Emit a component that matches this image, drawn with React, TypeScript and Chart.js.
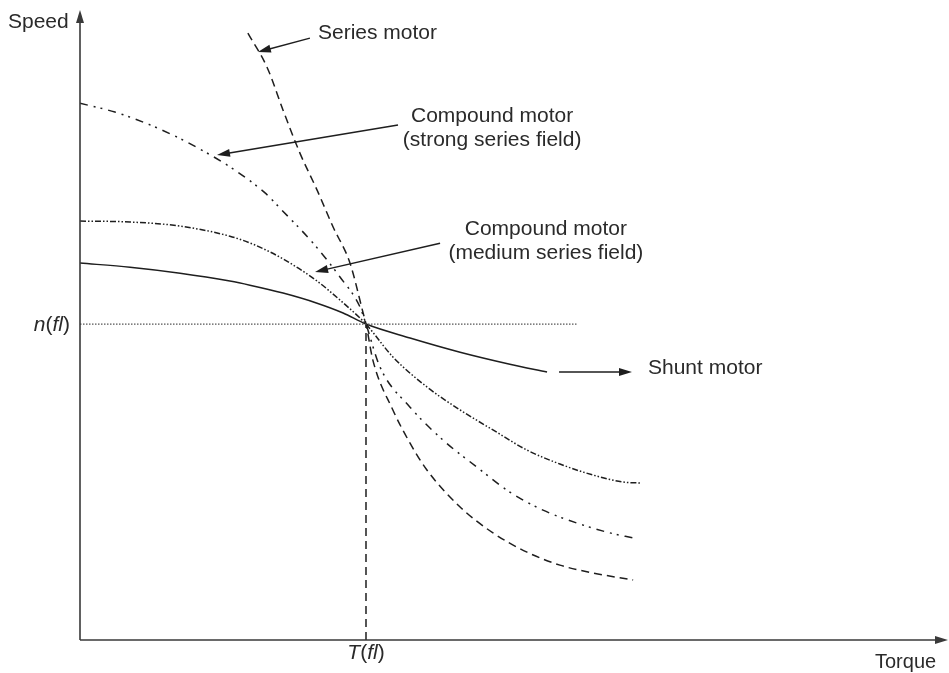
import React, { useEffect, useRef } from "react";
import { Chart, registerables } from "chart.js";

Chart.register(...registerables);

// Units: torque in multiples of T(fl), speed in multiples of n(fl)
const X_MAX = 3.035;
const Y_MAX = 1.994;

const TORQUE_SHUNT = [0, 0.175, 0.35, 0.524, 0.594, 0.71, 0.829, 0.92, 1, 1.154, 1.329, 1.503, 1.633];
const SPEED_SHUNT = [1.193, 1.18, 1.161, 1.136, 1.123, 1.098, 1.066, 1.035, 1, 0.956, 0.911, 0.873, 0.848];

const TORQUE_MEDIUM = [0, 0.175, 0.35, 0.524, 0.612, 0.71, 0.829, 0.909, 0.979, 1, 1.094, 1.213, 1.329, 1.444, 1.563, 1.678, 1.794, 1.899, 1.958];
const SPEED_MEDIUM = [1.326, 1.323, 1.31, 1.278, 1.25, 1.206, 1.136, 1.076, 1.019, 1, 0.896, 0.801, 0.728, 0.665, 0.601, 0.557, 0.522, 0.5, 0.497];

const TORQUE_STRONG = [0, 0.122, 0.227, 0.332, 0.437, 0.542, 0.647, 0.699, 0.815, 0.909, 0.979, 1, 1.049, 1.154, 1.269, 1.388, 1.503, 1.619, 1.738, 1.853, 1.934];
const SPEED_STRONG = [1.699, 1.671, 1.637, 1.595, 1.545, 1.487, 1.415, 1.367, 1.256, 1.149, 1.054, 1, 0.864, 0.737, 0.633, 0.547, 0.468, 0.411, 0.37, 0.339, 0.323];

const TORQUE_SERIES = [0.587, 0.654, 0.71, 0.769, 0.829, 0.885, 0.944, 0.99, 1, 1.024, 1.094, 1.154, 1.213, 1.329, 1.444, 1.563, 1.678, 1.794, 1.934];
const SPEED_SERIES = [1.921, 1.813, 1.677, 1.541, 1.424, 1.307, 1.193, 1.035, 1, 0.886, 0.728, 0.623, 0.538, 0.421, 0.339, 0.278, 0.237, 0.212, 0.19];

const RATED_TORQUE = 1;
const RATED_SPEED = 1;
const RATED_SPEED_LINE_END = 1.741;

// label texts
const LABEL_SERIES = ["Series motor"];
const LABEL_STRONG = ["Compound motor", "(strong series field)"];
const LABEL_MEDIUM = ["Compound motor", "(medium series field)"];
const LABEL_SHUNT = ["Shunt motor"];

// arrows: [tailX, tailY, headX, headY] (data units)
const ARROW_SERIES = [0.804, 1.905, 0.622, 1.861];
const ARROW_STRONG = [1.112, 1.63, 0.479, 1.535];
const ARROW_MEDIUM = [1.259, 1.256, 0.822, 1.165];
const ARROW_SHUNT = [1.675, 0.848, 1.93, 0.848];

const pts = (xs: number[], ys: number[]) => xs.map((x, i) => ({ x, y: ys[i] }));

const LINE = "#1e1e1e";
const TEXT = "#2a2a2a";
const FONT = "21px 'Liberation Sans', Arial, sans-serif";

function arrowHead(ctx: CanvasRenderingContext2D, x1: number, y1: number, x2: number, y2: number, len = 13, half = 4) {
  const a = Math.atan2(y2 - y1, x2 - x1);
  ctx.beginPath();
  ctx.moveTo(x2, y2);
  ctx.lineTo(x2 - len * Math.cos(a) + half * Math.sin(a), y2 - len * Math.sin(a) - half * Math.cos(a));
  ctx.lineTo(x2 - len * Math.cos(a) - half * Math.sin(a), y2 - len * Math.sin(a) + half * Math.cos(a));
  ctx.closePath();
  ctx.fill();
}

const decorPlugin = {
  id: "decor",
  afterDatasetsDraw(chart: any) {
    const { ctx, chartArea, scales } = chart;
    const xs = scales.x;
    const ys = scales.y;
    const X = (v: number) => xs.getPixelForValue(v);
    const Y = (v: number) => ys.getPixelForValue(v);
    ctx.save();
    // axes
    ctx.strokeStyle = "#3a3a3a";
    ctx.fillStyle = "#3a3a3a";
    ctx.lineWidth = 1.6;
    ctx.setLineDash([]);
    const ox = X(0);
    const oy = Y(0);
    ctx.beginPath();
    ctx.moveTo(ox, oy);
    ctx.lineTo(ox, chartArea.top + 8);
    ctx.moveTo(ox, oy);
    ctx.lineTo(chartArea.right - 8, oy);
    ctx.stroke();
    arrowHead(ctx, ox, oy, ox, chartArea.top, 13, 4);
    arrowHead(ctx, ox, oy, chartArea.right, oy, 13, 4);

    // annotation arrows
    ctx.strokeStyle = LINE;
    ctx.fillStyle = LINE;
    ctx.lineWidth = 1.5;
    for (const a of [ARROW_SERIES, ARROW_STRONG, ARROW_MEDIUM, ARROW_SHUNT]) {
      const x1 = X(a[0]), y1 = Y(a[1]), x2 = X(a[2]), y2 = Y(a[3]);
      const ang = Math.atan2(y2 - y1, x2 - x1);
      ctx.beginPath();
      ctx.moveTo(x1, y1);
      ctx.lineTo(x2 - 8 * Math.cos(ang), y2 - 8 * Math.sin(ang));
      ctx.stroke();
      arrowHead(ctx, x1, y1, x2, y2, 13, 4);
    }

    // labels
    ctx.fillStyle = TEXT;
    ctx.font = FONT;
    ctx.textBaseline = "middle";
    ctx.textAlign = "left";
    ctx.fillText(LABEL_SERIES[0], X(0.832), Y(1.921));
    ctx.fillText(LABEL_SHUNT[0], X(1.986), Y(0.861));
    ctx.textAlign = "center";
    ctx.fillText(LABEL_STRONG[0], X(1.441), Y(1.658));
    ctx.fillText(LABEL_STRONG[1], X(1.441), Y(1.582));
    ctx.fillText(LABEL_MEDIUM[0], X(1.629), Y(1.301));
    ctx.fillText(LABEL_MEDIUM[1], X(1.629), Y(1.225));

    // axis titles
    ctx.textAlign = "left";
    ctx.fillText("Speed", 8, chartArea.top + 12);
    ctx.font = "20px 'Liberation Sans', Arial, sans-serif";
    ctx.fillText("Torque", 875, oy + 22);

    // n(fl) and T(fl) with italic parts
    const drawMixed = (parts: [string, boolean][], x: number, y: number, align: "right" | "center") => {
      const italic = "italic 21px 'Liberation Sans', Arial, sans-serif";
      const upright = FONT;
      let total = 0;
      const widths = parts.map(([t, it]) => {
        ctx.font = it ? italic : upright;
        const w = ctx.measureText(t).width;
        total += w;
        return w;
      });
      let cx = align === "right" ? x - total : x - total / 2;
      ctx.textAlign = "left";
      parts.forEach(([t, it], i) => {
        ctx.font = it ? italic : upright;
        ctx.fillText(t, cx, y);
        cx += widths[i];
      });
    };
    drawMixed([["n", true], ["(", false], ["fl", true], [")", false]], ox - 10, Y(RATED_SPEED) + 1, "right");
    drawMixed([["T", true], ["(", false], ["fl", true], [")", false]], X(RATED_TORQUE), oy + 13, "center");
    ctx.restore();
  },
};

export default function App() {
  const ref = useRef<HTMLCanvasElement | null>(null);
  useEffect(() => {
    if (!ref.current) return;
    const common = { pointRadius: 0, borderWidth: 1.5, fill: false, borderColor: LINE, cubicInterpolationMode: "monotone" as const };
    const chart = new Chart(ref.current, {
      type: "line",
      data: {
        datasets: [
          { ...common, label: "n(fl)", data: [{ x: 0, y: RATED_SPEED }, { x: RATED_SPEED_LINE_END, y: RATED_SPEED }], borderColor: "#555", borderWidth: 1.2, borderDash: [1.5, 1.5] },
          { ...common, label: "T(fl)", data: [{ x: RATED_TORQUE, y: 0 }, { x: RATED_TORQUE, y: RATED_SPEED }], borderDash: [8, 5], cubicInterpolationMode: "default", tension: 0 },
          { ...common, label: "Shunt motor", data: pts(TORQUE_SHUNT, SPEED_SHUNT) },
          { ...common, label: "Compound motor (medium series field)", data: pts(TORQUE_MEDIUM, SPEED_MEDIUM), borderDash: [6, 2, 1.5, 2, 1.5, 2] },
          { ...common, label: "Compound motor (strong series field)", data: pts(TORQUE_STRONG, SPEED_STRONG), borderDash: [8, 6, 2, 5, 2, 6] },
          { ...common, label: "Series motor", data: pts(TORQUE_SERIES, SPEED_SERIES), borderDash: [8, 5] },
        ],
      },
      options: {
        animation: false,
        responsive: false,
        maintainAspectRatio: false,
        parsing: false as any,
        layout: { padding: { left: 80, right: 1, top: 10, bottom: 33 } },
        scales: {
          x: { type: "linear", min: 0, max: X_MAX, display: false },
          y: { type: "linear", min: 0, max: Y_MAX, display: false },
        },
        plugins: { legend: { display: false }, tooltip: { enabled: false } },
        elements: { line: { borderCapStyle: "butt" } },
      },
      plugins: [decorPlugin],
    });
    return () => chart.destroy();
  }, []);
  return (
    <div style={{ position: "fixed", left: 0, top: 0, width: 949, height: 673, background: "#fff" }}>
      <canvas ref={ref} width={949} height={673} style={{ width: 949, height: 673, display: "block" }} />
    </div>
  );
}
